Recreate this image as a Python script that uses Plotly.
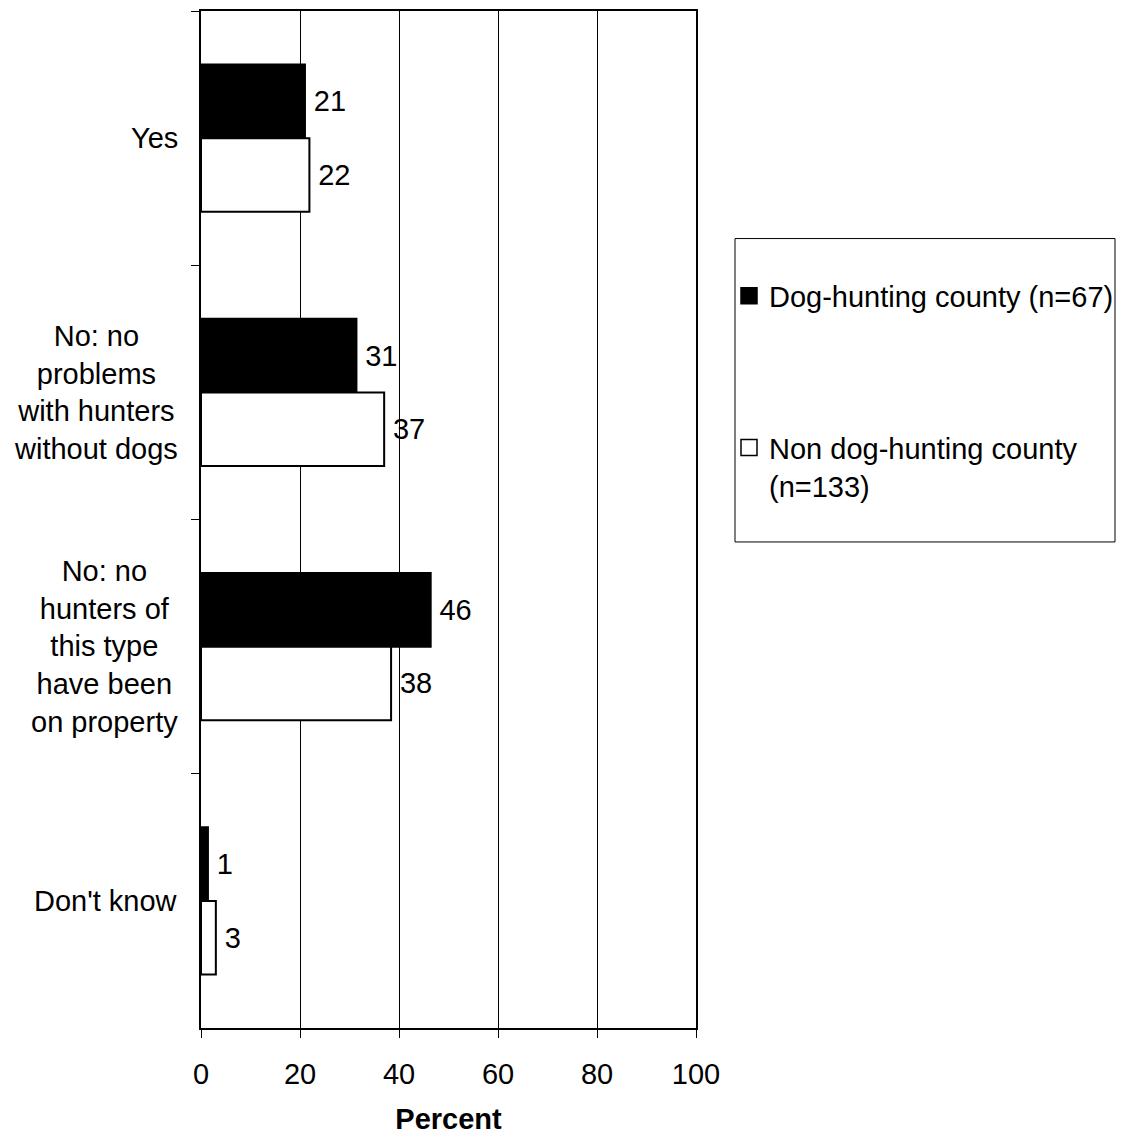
import plotly.graph_objects as go

categories = ["Yes", "No: no problems with hunters without dogs",
              "No: no hunters of this type have been on property", "Don't know"]
category_labels = ["Yes", "No: no<br>problems<br>with hunters<br>without dogs",
                   "No: no<br>hunters of<br>this type<br>have been<br>on property", "Don't know"]
dog_county = [21.0, 31.4, 46.4, 1.4]
non_dog_county = [21.9, 37.0, 38.4, 3.0]
series_names = ["Dog-hunting county (n=67)", "Non dog-hunting county<br>(n=133)"]
x_ticks = [0, 20, 40, 60, 80, 100]

FONT = "Liberation Sans, Arial, sans-serif"
FS = 29

# page body has an 8px margin: the figure is placed at (8, 8)
OFF = 8
L = 201 - OFF
T = 1
PW, PH = 495, 1019
W, H = 1125 - OFF, 1135 - OFF


def px_x(p):
    return (p - OFF - L) / PW


def px_y(p):
    return (T + PH - (p - OFF)) / PH


fig = go.Figure()
fig.add_trace(go.Bar(y=categories, x=dog_county, orientation="h",
                     marker=dict(color="black", line=dict(color="black", width=2)),
                     texttemplate="\u2009%{x:.0f}", textposition="outside",
                     textfont=dict(family=FONT, size=FS, color="black"),
                     cliponaxis=False, showlegend=False))
fig.add_trace(go.Bar(y=categories, x=non_dog_county, orientation="h",
                     marker=dict(color="white", line=dict(color="black", width=2)),
                     texttemplate="\u2009%{x:.0f}", textposition="outside",
                     textfont=dict(family=FONT, size=FS, color="black"),
                     cliponaxis=False, showlegend=False))
# legend entries
fig.add_trace(go.Scatter(x=[None], y=[None], mode="markers", name=series_names[0],
                         legendgroup="a",
                         marker=dict(symbol="square", size=17, color="black",
                                     line=dict(color="black", width=1.5))))
fig.add_trace(go.Scatter(x=[None], y=[None], mode="markers", name=series_names[1],
                         legendgroup="b",
                         marker=dict(symbol="square", size=17, color="white",
                                     line=dict(color="black", width=1.5))))

for cat, lab in zip(categories, category_labels):
    fig.add_annotation(x=0, xref="paper", y=cat, yref="y", text=lab,
                       xanchor="right", yanchor="middle", align="center",
                       xshift=-21, showarrow=False,
                       font=dict(family=FONT, size=FS, color="black"))

# legend box
fig.add_shape(type="rect", xref="paper", yref="paper",
              x0=px_x(735), x1=px_x(1115),
              y0=px_y(541), y1=px_y(237),
              line=dict(color="black", width=1), fillcolor="rgba(0,0,0,0)")

fig.update_layout(
    width=W, height=H,
    margin=dict(l=L, r=W - L - PW, t=T, b=H - T - PH),
    paper_bgcolor="white", plot_bgcolor="white",
    barmode="group", bargap=0.42, bargroupgap=0,
    font=dict(family=FONT, size=FS, color="black"),
    legend=dict(x=px_x(729), y=px_y(269), xanchor="left", yanchor="top",
                traceorder="grouped", tracegroupgap=111, valign="top",
                bgcolor="rgba(0,0,0,0)", borderwidth=0,
                font=dict(family=FONT, size=FS, color="black")),
    xaxis=dict(range=[0, 100], tickvals=x_ticks, ticks="outside", ticklen=8,
               tickcolor="black", tickwidth=1,
               showline=True, linecolor="black", linewidth=2, mirror=True,
               showgrid=True, gridcolor="black", gridwidth=1, zeroline=False,
               ticklabelstandoff=11,
               title=dict(text="<b>Percent</b>", standoff=21,
                          font=dict(family=FONT, size=FS, color="black"))),
    yaxis=dict(type="category", categoryorder="array", categoryarray=categories,
               range=[3.5, -0.5], showticklabels=False,
               ticks="outside", tickson="boundaries", ticklen=8,
               tickcolor="black", tickwidth=1,
               showline=True, linecolor="black", linewidth=2, mirror=True,
               showgrid=False, zeroline=False),
)

fig.write_html("out.html", config={"displayModeBar": False})
